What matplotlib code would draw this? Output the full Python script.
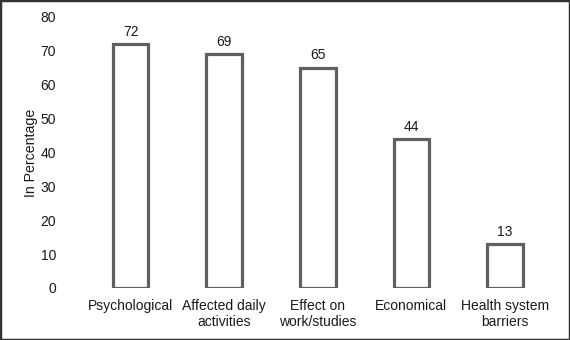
import matplotlib.pyplot as plt
from matplotlib.patches import Rectangle

plt.rcParams['font.family'] = ['Liberation Sans', 'DejaVu Sans']

categorias = ["Psychological", "Affected daily\nactivities", "Effect on\nwork/studies",
              "Economical", "Health system\nbarriers"]
valores = [72, 69, 65, 44, 13]

fig = plt.figure(figsize=(5.7, 3.4), dpi=100)
ax = fig.add_axes([0.147, 0.153, 0.821, 0.797])

x = range(len(categorias))
ax.bar(x, valores, width=0.38, color="white", edgecolor="#5f5f5f", linewidth=2.3)
for xi, v in zip(x, valores):
    ax.text(xi, v + 1.6, str(v), ha="center", va="bottom", fontsize=10, color="#1a1a1a")

ax.set_xlim(-0.5, len(categorias) - 0.5)
ax.set_ylim(0, 80)
ax.set_yticks(range(0, 81, 10))
ax.set_xticks(list(x))
ax.set_xticklabels(categorias, fontsize=10, color="#1a1a1a", linespacing=1.15)
ax.tick_params(axis="y", labelsize=10, colors="#1a1a1a", length=0, pad=20)
ax.tick_params(axis="x", length=0, pad=8)
for s in ax.spines.values():
    s.set_visible(False)
ax.set_ylabel("In Percentage", fontsize=10.2, color="#1a1a1a", labelpad=2)

fig.patches.append(Rectangle((0, 0), 1, 1, transform=fig.transFigure, fill=False,
                             edgecolor="#333333", linewidth=2.5))

fig.savefig("out.png", dpi=100)
